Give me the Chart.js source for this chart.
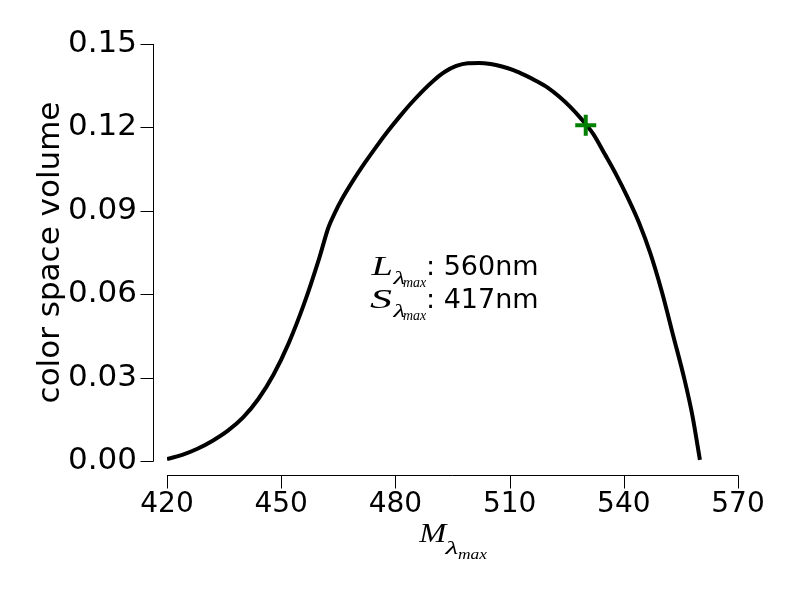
<!DOCTYPE html>
<html>
<head>
<meta charset="utf-8">
<script src="https://cdn.jsdelivr.net/npm/chart.js@4.4.0/dist/chart.umd.min.js"></script>
<style>
  html, body { margin: 0; padding: 0; background: #fff; }
  #wrap { width: 800px; height: 597px; }
</style>
</head>
<body>
<div id="wrap"><canvas id="c" width="800" height="597"></canvas></div>
<script>
// ---- data ----
const wavelengths = [420, 424, 428, 432, 436, 440, 444, 448, 452, 456, 460, 462.4,
  464, 466, 469, 472, 475, 478, 481, 484, 487, 490, 493, 496, 499, 502,
  505, 508, 511, 514, 517, 520, 523, 526, 529, 532, 535, 538, 541, 544, 547, 550, 553, 556, 558, 560];
const volumes = [0.0007, 0.0022, 0.0044, 0.0073, 0.0109, 0.0157, 0.0223, 0.0311, 0.0425, 0.0565, 0.0730, 0.0840,
  0.0890, 0.0943, 0.1011, 0.1073, 0.1131, 0.1186, 0.1237, 0.1285, 0.1329, 0.1368, 0.1400, 0.1421, 0.1431, 0.1432,
  0.1428, 0.1419, 0.1406, 0.1388, 0.1367, 0.1343, 0.1311, 0.1273, 0.1228, 0.1176, 0.1104, 0.1030, 0.0948, 0.0857, 0.0746, 0.0609, 0.0450, 0.0290, 0.0165, 0.0004];
const markerX = [530];
const markerY = [0.1208];
const xTicks = [420, 450, 480, 510, 540, 570];
const yTicks = [0.00, 0.03, 0.06, 0.09, 0.12, 0.15];
const annotationLetters = ['L', 'S'];
const annotationValues = [': 560nm', ': 417nm'];
const xLabelLetter = 'M';
const yLabel = 'color space volume';

const curve = wavelengths.map((x, i) => ({ x: x, y: volumes[i] }));
const marks = markerX.map((x, i) => ({ x: x, y: markerY[i] }));

const SERIF = '"Liberation Serif", "DejaVu Serif", serif';
const SANS = '"DejaVu Sans", sans-serif';
const AREA = { left: 167, right: 738, top: 44, bottom: 461 };

function fitInk(ctx, text, font, x0, x1, base) {
  ctx.font = font;
  ctx.textAlign = 'left';
  ctx.textBaseline = 'alphabetic';
  const m = ctx.measureText(text);
  const inkW = m.actualBoundingBoxRight + m.actualBoundingBoxLeft;
  const s = (x1 - x0) / inkW;
  ctx.save();
  ctx.translate(x0 + m.actualBoundingBoxLeft * s, base);
  ctx.scale(s, 1);
  ctx.fillText(text, 0, 0);
  ctx.restore();
}
function inkLeftText(ctx, text, font, x0, base) {
  ctx.font = font;
  ctx.textAlign = 'left';
  ctx.textBaseline = 'alphabetic';
  const m = ctx.measureText(text);
  ctx.fillText(text, x0 + m.actualBoundingBoxLeft, base);
}

const decor = {
  id: 'decor',
  afterDraw(chart) {
    const ctx = chart.ctx;
    const xs = chart.scales.x, ys = chart.scales.y;
    ctx.save();
    ctx.strokeStyle = '#000';
    ctx.lineWidth = 1;
    // left spine, offset outward
    const sx = 153.5;
    ctx.beginPath();
    ctx.moveTo(sx, ys.getPixelForValue(yTicks[yTicks.length - 1]));
    ctx.lineTo(sx, ys.getPixelForValue(yTicks[0]) + 0.5);
    yTicks.forEach(v => {
      const p = Math.round(ys.getPixelForValue(v)) + 0.5;
      ctx.moveTo(sx, p);
      ctx.lineTo(sx - 13, p);
    });
    ctx.stroke();
    // bottom spine, offset outward
    const sy = 475.5;
    ctx.beginPath();
    ctx.moveTo(xs.getPixelForValue(xTicks[0]), sy);
    ctx.lineTo(xs.getPixelForValue(xTicks[xTicks.length - 1]) + 0.5, sy);
    xTicks.forEach(v => {
      const p = Math.round(xs.getPixelForValue(v)) + 0.5;
      ctx.moveTo(p, sy);
      ctx.lineTo(p, sy + 13);
    });
    ctx.stroke();

    ctx.fillStyle = '#000';
    // y axis title
    ctx.save();
    ctx.translate(59, (AREA.top + AREA.bottom) / 2);
    ctx.rotate(-Math.PI / 2);
    ctx.font = '31px ' + SANS;
    ctx.textAlign = 'center';
    ctx.textBaseline = 'alphabetic';
    ctx.fillText(yLabel, 0, 0);
    ctx.restore();

    // x axis title  M_{lambda_{max}}
    fitInk(ctx, xLabelLetter, 'italic 27px ' + SERIF, 418, 448, 542);
    fitInk(ctx, 'λ', 'italic 19px ' + SERIF, 444, 458, 554);
    fitInk(ctx, 'max', 'italic 14px ' + SERIF, 458, 488, 559);

    // annotation
    const bases = [275, 308];
    annotationLetters.forEach((L, i) => {
      const b = bases[i];
      fitInk(ctx, L, 'italic 28px ' + SERIF, 370, 392, b);
      fitInk(ctx, 'λ', 'italic 19px ' + SERIF, 392, 405, b + 9);
      fitInk(ctx, 'max', 'italic 14px ' + SERIF, 403, 427, b + 12);
      inkLeftText(ctx, annotationValues[i], '27px ' + SANS, 429, b);
    });
    ctx.restore();
  }
};

const chart = new Chart(document.getElementById('c'), {
  type: 'scatter',
  data: {
    datasets: [
      { data: curve, showLine: true, borderColor: '#000', borderWidth: 4, pointRadius: 0,
        cubicInterpolationMode: 'monotone', fill: false, order: 2 },
      { data: marks, showLine: false, pointStyle: 'cross', pointRadius: 10.5, borderWidth: 4,
        borderColor: '#008000', backgroundColor: '#008000', order: 1 }
    ]
  },
  plugins: [decor],
  options: {
    responsive: false,
    animation: false,
    devicePixelRatio: 1,
    layout: { padding: { top: 44, right: 62, left: 0, bottom: 0 } },
    plugins: { legend: { display: false }, tooltip: { enabled: false } },
    scales: {
      x: {
        type: 'linear', min: 420, max: 570,
        afterFit: s => { s.height = 136; s.paddingLeft = 0; s.paddingRight = 0; },
        afterBuildTicks: s => { s.ticks = xTicks.map(v => ({ value: v })); },
        grid: { display: false, drawTicks: false },
        border: { display: false },
        ticks: { font: { family: 'DejaVu Sans', size: 28 }, color: '#000', padding: 27, maxRotation: 0, autoSkip: false }
      },
      y: {
        type: 'linear', min: 0, max: 0.15,
        afterFit: s => { s.width = 167; s.paddingTop = 0; s.paddingBottom = 0; },
        afterBuildTicks: s => { s.ticks = yTicks.map(v => ({ value: v })); },
        grid: { display: false, drawTicks: false },
        border: { display: false },
        ticks: { font: { family: 'DejaVu Sans', size: 31 }, color: '#000', padding: 30, autoSkip: false,
          callback: v => Number(v).toFixed(2) }
      }
    }
  }
});

// fine correction of the plot-area top, if the layout shifted it
(function fixTop() {
  const d = chart.chartArea.top - AREA.top;
  if (Math.abs(d) > 0.3) {
    chart.config.options.layout.padding.top -= d;
    chart.update();
  }
})();
</script>
</body>
</html>
